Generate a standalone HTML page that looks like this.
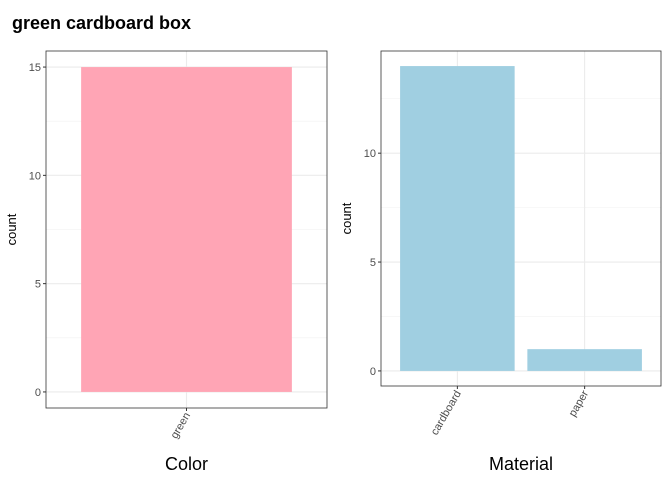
<!DOCTYPE html>
<html><head><meta charset="utf-8"><style>body{margin:0;background:#fff}svg{font-family:"Liberation Sans",sans-serif}</style></head>
<body>
<svg id="c" width="672" height="480">
<text x="12" y="29" font-size="18" font-weight="bold" fill="#000">green cardboard box</text>
</svg>
<script>
const colorCats=["green"];
const colorCounts=[15];
const colorTicks=[0,5,10,15];
const matCats=["cardboard","paper"];
const matCounts=[14,1];
const matTicks=[0,5,10];
const NS="http://www.w3.org/2000/svg";
const svg=document.getElementById('c');
function mk(t,a,p){const e=document.createElementNS(NS,t);for(const k in a)e.setAttribute(k,a[k]);(p||svg).appendChild(e);return e;}
function panel(name,x0,x1,y0,y1,cats,vals,ticks,ymax,fill,xtitle){
  const g=mk('g',{});
  
  
  const pad=(y1-y0)*0.045;
  const yb=y1-pad, yt=y0+pad;
  const y=v=>yb-(yb-yt)*v/ymax;
  const n=cats.length, step=(x1-x0)/(n+0.2), bw=step*0.9;
  const xc=i=>x0+step*0.6+step*i;
  for(let i=0;i<ticks.length;i++){
    const m=ticks[i]+(ticks[1]-ticks[0])/2;
    if(y(m)>y0) mk('line',{x1:x0,x2:x1,y1:y(m),y2:y(m),stroke:'#f0f0f0','stroke-width':0.6},g);
    mk('line',{x1:x0,x2:x1,y1:y(ticks[i]),y2:y(ticks[i]),stroke:'#ebebeb','stroke-width':1.1},g);
  }
  cats.forEach((c,i)=>mk('line',{x1:xc(i),x2:xc(i),y1:y0,y2:y1,stroke:'#ebebeb','stroke-width':1.1},g));
  vals.forEach((v,i)=>{
    const r=mk('rect',{x:xc(i)-bw/2,y:y(v),width:bw,height:yb-y(v),fill:fill},g);
    
    
  });
  mk('rect',{x:x0,y:y0,width:x1-x0,height:y1-y0,fill:'none',stroke:'#333','stroke-width':0.8},g);
  ticks.forEach(t=>{
    mk('line',{x1:x0-3,x2:x0,y1:y(t),y2:y(t),stroke:'#333'},g);
    const tx=mk('text',{x:x0-5,y:y(t)+4,'font-size':11,'text-anchor':'end',fill:'#4d4d4d'},g);
    tx.textContent=t;
    
    
  });
  cats.forEach((c,i)=>{
    mk('line',{x1:xc(i),x2:xc(i),y1:y1,y2:y1+3,stroke:'#333'},g);
    const tx=mk('text',{x:xc(i)+4,y:y1+7,'font-size':11,'text-anchor':'end',fill:'#4d4d4d',transform:`rotate(-60 ${xc(i)+4} ${y1+7})`},g);
    tx.textContent=c;
    
    
  });
  const yl=mk('text',{x:0,y:0,'font-size':13,'text-anchor':'middle',transform:`translate(${x0-30} ${(y0+y1)/2}) rotate(-90)`},g);
  yl.textContent='count';
  
  
  const xl=mk('text',{x:(x0+x1)/2,y:470,'font-size':18,'text-anchor':'middle'},g);
  xl.textContent=xtitle;
  
  
}
panel('color',46,327,51,408,colorCats,colorCounts,colorTicks,15,'#ffa5b5','Color');
panel('material',381,661,51,386,matCats,matCounts,matTicks,14,'#a0cfe1','Material');
</script>
</body></html>
